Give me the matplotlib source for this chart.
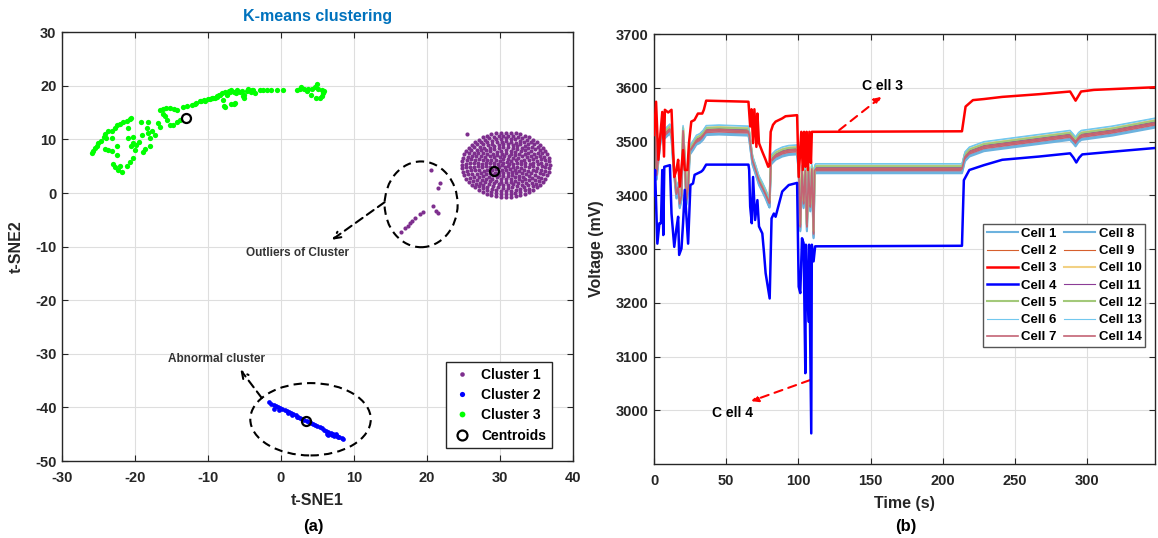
import matplotlib.pyplot as plt
from matplotlib.patches import Ellipse
import numpy as np

plt.rcParams['font.family'] = ['Liberation Sans', 'DejaVu Sans']
plt.rcParams['font.weight'] = 'bold'
plt.rcParams['axes.labelweight'] = 'bold'
plt.rcParams['axes.unicode_minus'] = False

# ---------------- (a) t-SNE embedding, K-means result ----------------
# Cluster 3 (green)
green_x = [-25.9, -25.7, -25.5, -25.25, -25.0, -24.7, -24.3, -24.1, -23.7, -23.2, -22.7, -22.5,
           -22.1, -21.6, -21.1, -20.7, -20.5, -23.9, -23.2, -24.1, -23.7, -23.2, -22.4, -23.0,
           -22.7, -22.3, -21.8, -22.1, -21.1, -20.7, -20.2, -22.5, -20.9, -20.9, -20.2, -20.2,
           -20.5, -20.0, -19.8, -19.4, -19.1, -19.2, -18.2, -18.4, -18.2, -17.9, -18.0, -18.6,
           -18.9, -17.6, -17.3, -16.9, -16.6, -16.1, -15.9, -15.6, -15.2, -14.8, -14.3, -13.8,
           -16.6, -16.1, -15.7, -15.2, -14.7, -14.3, -13.4, -12.9, -12.2, -11.8, -11.6, -11.1,
           -10.9, -10.5, -10.4, -9.95, -9.7, -9.5, -9.3, -9.0, -8.8, -8.7, -8.45, -8.4, -8.1,
           -7.9, -7.8, -7.7, -7.7, -7.4, -7.4, -7.1, -7.0, -6.8, -6.8, -6.5, -6.4, -6.3, -6.1,
           -6.0, -5.6, -5.4, -5.2, -5.1, -5.0, -4.7, -4.5, -4.1, -4.0, -3.8, -3.6, -2.9, -2.4,
           -1.9, -1.3, -0.6, 0.3, 2.2, 2.6, 2.8, 3.2, 3.5, 3.7, 4.1, 4.2, 4.7, 4.8, 4.9, 5.1,
           5.3, 5.6, 5.6, 5.8, 5.9]
green_y = [7.4, 7.9, 8.4, 8.7, 9.3, 9.7, 10.5, 11.0, 11.5, 11.6, 12.1, 12.7,
           12.8, 13.2, 13.5, 13.8, 14.0, 10.2, 10.2, 8.2, 8.1, 7.9, 7.1, 5.4,
           4.8, 4.3, 4.0, 5.0, 5.1, 5.75, 6.5, 8.7, 12.1, 10.2, 10.5, 9.3,
           8.7, 8.1, 8.9, 9.6, 10.9, 13.3, 13.3, 12.2, 11.2, 10.2, 8.7, 8.2,
           7.6, 11.6, 10.9, 13.0, 12.4, 14.7, 14.3, 13.7, 12.7, 12.7, 13.3, 13.7,
           15.5, 15.7, 15.8, 15.8, 15.7, 15.5, 16.1, 16.3, 16.4, 16.6, 16.8, 17.1,
           17.1, 17.3, 17.2, 17.6, 17.6, 17.8, 17.8, 17.7, 18.2, 18.0, 18.3, 18.3, 18.6,
           17.4, 16.3, 18.9, 16.1, 18.4, 18.3, 19.1, 18.8, 16.6, 19.2, 16.6, 18.9, 16.8, 18.6,
           19.2, 18.9, 19.1, 18.2, 18.3, 17.7, 19.1, 19.4, 18.9, 19.2, 19.2, 18.6, 19.2, 19.2,
           19.2, 19.2, 19.3, 19.3, 19.3, 19.4, 19.7, 19.4, 19.1, 19.5, 18.3, 19.4, 19.7, 17.8, 20.3, 19.4,
           17.7, 19.2, 18.2, 18.6, 19.1]

# Cluster 2 (blue), a thin diagonal band
blue_x = [-1.6, -1.3, -1.0, -0.7, -0.4, -0.1, 0.2, 0.5, 0.8, 1.1, 1.4, 1.7, 2.0, 2.3, 2.6,
          2.9, 3.2, 3.5, 3.8, 4.1, 4.4, 4.7, 5.0, 5.3, 5.6, 5.9, 6.2, 6.5, 6.8, 7.1, 7.4,
          7.7, 8.0, 8.3, 8.55, -0.9, -0.3, 0.9, 1.5, 2.2, 6.3, 6.5, 6.9, 7.2, 7.5, 7.8, 7.0]
blue_y = [-39.07, -39.27, -39.47, -39.68, -39.88, -40.08, -40.28, -40.48, -40.69, -40.89,
          -41.09, -41.29, -41.49, -41.70, -41.90, -42.10, -42.30, -42.50, -42.71, -42.91,
          -43.11, -43.31, -43.51, -43.72, -43.92, -44.12, -44.32, -44.52, -44.73, -44.93,
          -45.13, -45.33, -45.53, -45.74, -45.90, -40.2, -40.4, -41.0, -41.35, -41.75,
          -44.9, -45.1, -44.9, -45.3, -45.0, -45.55, -45.2]

# Cluster 1 (purple): dense disc laid out as concentric rings, plus stray points
disc_center = (30.8, 5.3)
ring_radius = [6.0, 5.45, 4.9, 4.35, 3.8, 3.25, 2.7, 2.15, 1.6, 1.05, 0.5]
ring_count = [56, 51, 46, 41, 36, 31, 26, 21, 16, 11, 6]
ring_phase = [0.0, 0.03, 0.07, 0.02, 0.09, 0.05, 0.12, 0.04, 0.15, 0.2, 0.3]
purple_extra_x = [25.5, 20.55, 21.8, 21.55, 20.86, 21.3, 21.55, 19.5, 19.04, 18.36, 18.0, 17.7,
                  17.35, 16.99, 16.4]
purple_extra_y = [11.0, 4.32, 1.8, 0.9, -2.4, -3.27, -3.65, -3.45, -3.9, -4.7, -5.2, -5.6,
                  -6.1, -6.55, -7.2]

centroid_x = [29.2, 3.4, -13.0]
centroid_y = [4.1, -42.5, 14.0]

# ---------------- (b) cell voltages ----------------
# shared profile of the normal cells
base_t = [0, 0.8, 1.8, 3.0, 4.1, 5.3, 7.5, 11.0, 12.1, 13.3, 14.4, 15.5, 16.7, 17.8, 19.0,
          20.1, 21.3, 22.4, 23.6, 24.7, 27.0, 29.3, 31.6, 33.9, 36.1, 45, 65.4, 66.0, 67.0,
          68.2, 70.5, 72.7, 75.0, 77.3, 79.1, 80.0, 81.0, 82.0, 84.2, 88.8, 93.3, 99.1, 100.2,
          101.3, 102.5, 103.6, 104.8, 105.9, 107.0, 108.2, 109.3, 110.5, 111.2, 112, 213.3,
          215.3, 218.4, 228.5, 253.9, 288.2, 290.5, 292.0, 294.0, 296.0, 317.4, 347.4]
base_v = [3490, 3527, 3438, 3472, 3500, 3520, 3515, 3524, 3515, 3466, 3434, 3403, 3416, 3385,
          3400, 3521, 3466, 3391, 3416, 3484, 3493, 3503, 3506, 3512, 3521, 3522, 3520, 3512,
          3490, 3466, 3447, 3428, 3416, 3403, 3391, 3386, 3466, 3469, 3475, 3481, 3484, 3485,
          3453, 3342, 3447, 3385, 3447, 3342, 3447, 3379, 3450, 3329, 3447, 3450, 3450,
          3472, 3481, 3491, 3500, 3512, 3505, 3500, 3508, 3512, 3520, 3535]
# offset of each normal cell from the shared profile (mV)
cell_offset = {1: -7, 2: -2, 5: 3, 6: 9, 7: -4, 8: -9, 9: 0, 10: 5, 11: 2, 12: 4, 13: 8, 14: -1}

cell3_t = [0, 1.4, 3.0, 5.7, 6.9, 7.5, 9.8, 12.1, 14.0, 15.5, 16.7, 17.8, 20.1, 21.3, 23.1,
           24.2, 25.8, 28.0, 30.4, 33.4, 34.5, 36.1, 65.4, 66.6, 67.5, 68.6, 69.5, 70.9, 71.6,
           72.7, 75.0, 77.3, 79.1, 80.0, 80.8, 82.4, 84.2, 88.8, 91.1, 99.1, 100.2, 102.0,
           103.0, 103.9, 104.8, 105.7, 106.6, 107.6, 108.7, 109.3, 213.3, 215.8, 220.9, 228.5,
           241.2, 266.6, 288.2, 290.0, 292.0, 294.0, 295.8, 304.7, 330.1, 347.4]
cell3_v = [3512, 3574, 3466, 3555, 3472, 3559, 3554, 3559, 3434, 3447, 3466, 3416, 3484, 3447,
           3447, 3497, 3537, 3540, 3552, 3552, 3559, 3576, 3574, 3528, 3560, 3497, 3560, 3490,
           3552, 3497, 3481, 3466, 3453, 3455, 3518, 3531, 3537, 3543, 3547, 3549, 3434, 3518,
           3447, 3518, 3453, 3518, 3447, 3518, 3460, 3518, 3519, 3565, 3577, 3579,
           3583, 3588, 3593, 3585, 3576, 3585, 3593, 3596, 3599, 3601]

cell4_t = [0, 0.7, 2.3, 3.7, 4.8, 5.7, 6.4, 7.1, 11.0, 12.1, 14.0, 15.5, 16.7, 17.4, 19.0,
           20.1, 21.3, 23.6, 25.2, 27.0, 28.1, 30.4, 32.7, 33.9, 36.1, 65.4, 65.9, 66.6, 67.7,
           68.6, 70.0, 71.6, 72.7, 75.0, 76.2, 77.3, 80.1, 81.4, 83.0, 84.2, 88.8, 93.3, 99.1,
           100.2, 101.3, 102.5, 103.6, 104.8, 105.2, 107.0, 107.4, 108.9, 109.3, 110.5, 111.6,
           213.3, 214.6, 218.4, 228.5, 241.2, 266.6, 288.2, 290.5, 292.5, 294.5, 296.6, 317.4,
           347.4]
cell4_v = [3400, 3447, 3310, 3348, 3348, 3447, 3326, 3453, 3456, 3366, 3304, 3338, 3360, 3289,
           3301, 3348, 3410, 3310, 3419, 3422, 3438, 3441, 3444, 3447, 3457, 3457, 3447, 3379,
           3348, 3434, 3354, 3391, 3342, 3329, 3292, 3255, 3208, 3357, 3366, 3360, 3407, 3419,
           3423, 3230, 3218, 3320, 3311, 3069, 3308, 3165, 3308, 2957, 3308, 3277, 3305,
           3306, 3428, 3447, 3456, 3466, 3472, 3478, 3470, 3461, 3470, 3476, 3481, 3488]

cell_color = {1: '#6CB2DE', 2: '#D65F2D', 3: '#FF0000', 4: '#0000FF', 5: '#A3C97A',
              6: '#72C8EE', 7: '#C46474', 8: '#6CB2DE', 9: '#D65F2D', 10: '#F2D184',
              11: '#8C3C96', 12: '#A3C97A', 13: '#72C8EE', 14: '#C46474'}
cell_width = {1: 1.5, 2: 0.8, 3: 1.8, 4: 1.8, 5: 1.5, 6: 0.8, 7: 1.2, 8: 1.5, 9: 0.8,
              10: 1.5, 11: 0.8, 12: 1.5, 13: 0.8, 14: 1.2}

DARK = '#262626'


def style_axes(ax):
    ax.grid(True, color='#dedede', linewidth=0.8)
    ax.set_axisbelow(True)
    ax.tick_params(direction='in', length=4, width=0.8, top=True, right=True,
                   labelsize=10.5, colors=DARK)
    ax.tick_params(axis='x', pad=7)
    ax.tick_params(axis='y', pad=4)
    for s in ax.spines.values():
        s.set_color(DARK)
        s.set_linewidth(1.0)
    for lab in ax.get_xticklabels() + ax.get_yticklabels():
        lab.set_fontweight('bold')


fig = plt.figure(figsize=(11.58, 5.38), dpi=100)
ax1 = fig.add_axes([0.0535, 0.143, 0.4413, 0.797])
ax2 = fig.add_axes([0.5648, 0.1375, 0.4326, 0.7993])

# ---- panel (a)
disc_x, disc_y = [], []
for r, n, ph in zip(ring_radius, ring_count, ring_phase):
    ang = np.linspace(0, 2 * np.pi, n, endpoint=False) + ph
    disc_x.extend(disc_center[0] + r * np.cos(ang))
    disc_y.extend(disc_center[1] + r * np.sin(ang))
c1_x = disc_x + purple_extra_x
c1_y = disc_y + purple_extra_y

ax1.plot(c1_x, c1_y, 'o', color='#7E2F8E', ms=3.0, mew=0, label='Cluster 1')
ax1.plot(blue_x, blue_y, 'o', color='#0000FF', ms=3.4, mew=0, label='Cluster 2')
ax1.plot(green_x, green_y, 'o', color='#00FF00', ms=3.8, mew=0, label='Cluster 3')
ax1.plot(centroid_x, centroid_y, 'o', mfc='none', mec='black', ms=6.5, mew=1.6,
         label='Centroids')

dash = (0, (4, 2.5))
ax1.add_patch(Ellipse((19.2, -2.1), 10.0, 16.0, fill=False, ec='black', lw=1.5, ls=dash))
ax1.add_patch(Ellipse((4.05, -42.2), 16.5, 13.5, fill=False, ec='black', lw=1.5, ls=dash))
ax1.annotate('', xy=(7.0, -8.7), xytext=(14.2, -1.7),
             arrowprops=dict(arrowstyle='->', color='black', lw=1.5, ls=dash,
                             shrinkA=0, shrinkB=0, mutation_scale=12))
ax1.annotate('', xy=(-5.55, -32.97), xytext=(-2.62, -38.25),
             arrowprops=dict(arrowstyle='->', color='black', lw=1.5, ls=dash,
                             shrinkA=0, shrinkB=0, mutation_scale=12))
ax1.text(2.2, -11.2, 'Outliers of Cluster', ha='center', va='center', fontsize=8.5,
         fontweight='bold', color='#333333')
ax1.text(-8.85, -31.0, 'Abnormal cluster', ha='center', va='center', fontsize=8.5,
         fontweight='bold', color='#333333')

ax1.set_xlim(-30, 40)
ax1.set_ylim(-50, 30)
ax1.set_xticks(np.arange(-30, 41, 10))
ax1.set_yticks(np.arange(-50, 31, 10))
style_axes(ax1)
ax1.set_title('K-means clustering', fontsize=11.5, fontweight='bold', color='#0072BD', pad=8)
ax1.set_xlabel('t-SNE1', fontsize=11.5, color=DARK)
ax1.set_ylabel('t-SNE2', fontsize=11.5, color=DARK)
ax1.xaxis.set_label_coords(0.5, -0.075)
ax1.yaxis.set_label_coords(-0.075, 0.5)
ax1.legend(loc='lower right', bbox_to_anchor=(0.972, 0.014), fontsize=10, frameon=True,
           fancybox=False, edgecolor=DARK, framealpha=1, handlelength=1.5, handletextpad=0.6,
           labelspacing=0.45, borderpad=0.4, markerscale=1.1)

# ---- panel (b)
for k in range(1, 15):
    if k == 3:
        t, v = cell3_t, cell3_v
    elif k == 4:
        t, v = cell4_t, cell4_v
    else:
        t = base_t
        v = [x + cell_offset[k] for x in base_v]
    ax2.plot(t, v, color=cell_color[k], lw=cell_width[k], label=f'Cell {k}',
             zorder=4 if k in (3, 4) else 2)

ax2.annotate('', xy=(157.4, 3583), xytext=(128.2, 3521),
             arrowprops=dict(arrowstyle='-|>', color='red', lw=1.5, ls=(0, (4, 3)),
                             shrinkA=0, shrinkB=0, mutation_scale=10))
ax2.annotate('', xy=(67.3, 3017), xytext=(107.9, 3056),
             arrowprops=dict(arrowstyle='-|>', color='red', lw=1.5, ls=(0, (4, 3)),
                             shrinkA=0, shrinkB=0, mutation_scale=10))
ax2.text(158, 3603, 'C ell 3', ha='center', va='center', fontsize=10, fontweight='bold')
ax2.text(54.6, 2995, 'C ell 4', ha='center', va='center', fontsize=10, fontweight='bold')

ax2.set_xlim(0, 347)
ax2.set_ylim(2900, 3700)
ax2.set_xticks(np.arange(0, 301, 50))
ax2.set_yticks(np.arange(3000, 3701, 100))
style_axes(ax2)
ax2.set_xlabel('Time (s)', fontsize=11.5, color=DARK)
ax2.set_ylabel('Voltage (mV)', fontsize=11.5, color=DARK)
ax2.xaxis.set_label_coords(0.5, -0.075)
ax2.yaxis.set_label_coords(-0.1, 0.5)
ax2.legend(loc='upper right', bbox_to_anchor=(0.994, 0.574), ncol=2, fontsize=9.5,
           frameon=True, fancybox=False, edgecolor='#555555', framealpha=1,
           handlelength=2.4, handletextpad=0.25, labelspacing=0.38, columnspacing=0.5,
           borderpad=0.3)

fig.text(0.271, 0.021, '(a)', ha='center', va='center', fontsize=12, fontweight='bold')
fig.text(0.782, 0.021, '(b)', ha='center', va='center', fontsize=12, fontweight='bold')

fig.savefig('out.png', dpi=100)
